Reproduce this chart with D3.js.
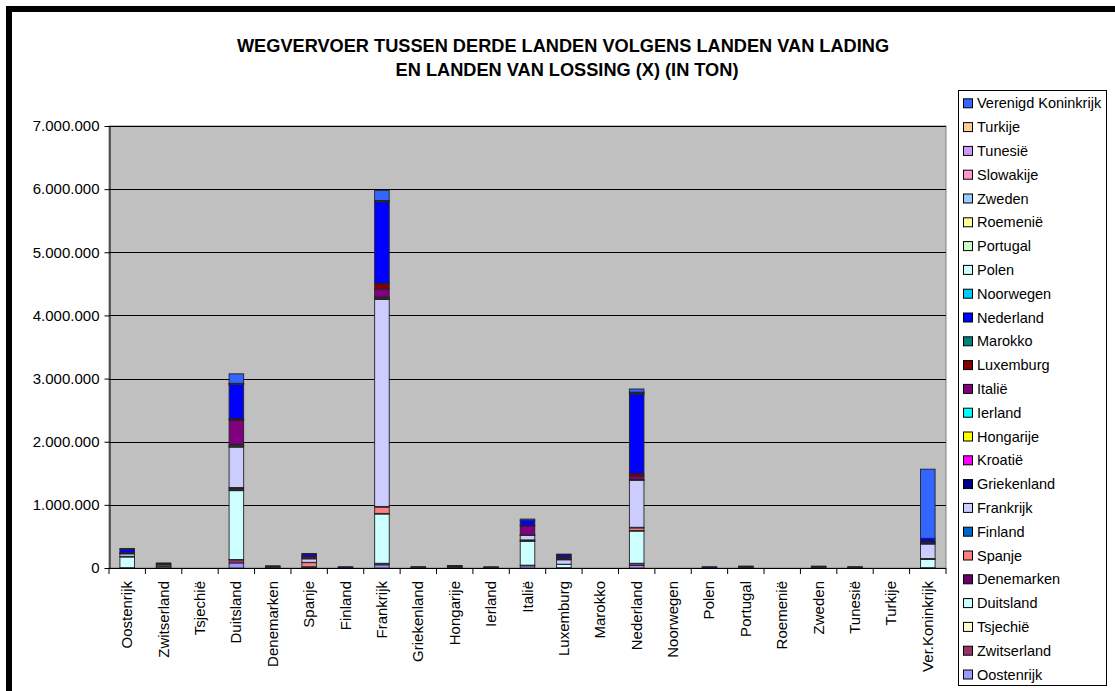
<!DOCTYPE html>
<html>
<head>
<meta charset="utf-8">
<script src="https://cdn.jsdelivr.net/npm/d3@7"></script>
<style>
  body { margin: 0; background: #fff; }
  svg { display: block; font-family: "Liberation Sans", Arial, sans-serif; }
</style>
</head>
<body>
<div class="chart"></div>
<script>
// landen van lading (x-as)
const categories = ["Oostenrijk","Zwitserland","Tsjechië","Duitsland","Denemarken","Spanje","Finland",
  "Frankrijk","Griekenland","Hongarije","Ierland","Italië","Luxemburg","Marokko","Nederland",
  "Noorwegen","Polen","Portugal","Roemenië","Zweden","Tunesië","Turkije","Ver.Koninkrijk"];

// landen van lossing, van onder naar boven gestapeld
const seriesNames = ["Oostenrijk","Zwitserland","Tsjechië","Duitsland","Denemarken","Spanje","Finland",
  "Frankrijk","Griekenland","Kroatië","Hongarije","Ierland","Italië","Luxemburg","Marokko","Nederland",
  "Noorwegen","Polen","Portugal","Roemenië","Zweden","Slowakije","Tunesië","Turkije","Verenigd Koninkrijk"];

const seriesColors = ["#9999FF","#993366","#FFFFCC","#CCFFFF","#660066","#FF8080","#0066CC",
  "#CCCCFF","#000080","#FF00FF","#FFFF00","#00FFFF","#800080","#800000","#008080","#0000FF",
  "#00CCFF","#CCFFFF","#CCFFCC","#FFFF99","#99CCFF","#FF99CC","#CC99FF","#FFCC99","#3366FF"];

// duizend ton, een rij per land van lossing, kolommen volgen categories
const seriesValues = [
  [0,5,0,80,0,5,0,50,0,0,0,35,5,0,40,0,0,0,0,0,0,0,5],          // Oostenrijk
  [5,0,0,50,0,0,0,20,0,0,0,10,0,0,30,0,0,0,0,0,0,0,0],          // Zwitserland
  [0,0,0,5,0,0,0,5,0,0,0,0,0,0,5,0,0,0,0,0,0,0,0],              // Tsjechië
  [170,20,0,1090,15,15,10,780,10,15,0,380,50,0,510,0,10,5,0,10,0,0,130], // Duitsland
  [5,0,0,20,0,0,0,10,0,0,0,5,0,0,10,0,0,0,0,5,0,0,0],           // Denemarken
  [5,5,0,15,0,65,0,100,0,0,0,10,5,0,40,0,0,10,0,0,0,0,15],      // Spanje
  [0,0,0,15,0,5,0,10,0,0,0,5,0,0,10,0,0,0,0,0,0,0,0],           // Finland
  [40,20,0,640,10,55,0,3280,5,5,5,70,70,0,740,0,0,10,0,5,15,0,230], // Frankrijk
  [2,0,0,10,0,5,0,10,0,0,0,5,5,0,5,0,0,0,0,0,0,0,5],            // Griekenland
  [0,0,0,5,0,0,0,5,0,0,0,0,0,0,0,0,0,0,0,0,0,0,0],              // Kroatië
  [3,0,0,15,0,5,0,10,0,0,0,5,0,0,10,0,0,0,0,0,0,0,0],           // Hongarije
  [0,0,0,15,0,0,0,10,0,0,0,0,0,0,5,0,0,0,0,0,0,0,15],           // Ierland
  [10,15,0,380,0,25,0,130,0,5,0,140,20,0,50,0,0,0,0,0,5,0,15],  // Italië
  [0,0,0,20,0,5,0,85,0,0,0,10,20,0,40,0,0,0,0,0,0,0,5],         // Luxemburg
  [0,0,0,5,0,0,0,5,0,0,0,0,0,0,0,0,0,0,0,0,0,0,0],              // Marokko
  [55,15,0,540,10,35,10,1290,5,10,5,80,35,0,1260,0,10,5,0,10,0,0,50], // Nederland
  [0,0,0,5,0,0,0,5,0,0,0,0,0,0,10,0,0,0,0,0,0,0,0],             // Noorwegen
  [0,0,0,5,0,0,0,5,0,0,0,0,0,0,10,0,0,0,0,0,0,0,0],             // Polen
  [0,0,0,5,0,0,0,5,0,0,0,0,0,0,0,0,0,0,0,0,0,0,0],              // Portugal
  [0,0,0,0,0,0,0,0,0,0,0,0,0,0,0,0,0,0,0,0,0,0,0],              // Roemenië
  [0,0,0,5,0,0,0,5,0,0,0,0,0,0,10,0,0,0,0,0,0,0,0],             // Zweden
  [0,0,0,0,0,0,0,0,0,0,0,0,0,0,0,0,0,0,0,0,0,0,0],              // Slowakije
  [0,0,0,0,0,0,0,0,0,0,0,0,0,0,0,0,0,0,0,0,0,0,0],              // Tunesië
  [0,0,0,0,0,0,0,0,0,0,0,0,0,0,0,0,0,0,0,0,0,0,0],              // Turkije
  [15,0,0,150,0,10,0,160,0,5,10,20,10,0,50,0,0,0,0,0,0,0,1095]  // Verenigd Koninkrijk
];

const yTicks = [0,1000000,2000000,3000000,4000000,5000000,6000000,7000000];

const W = 1115, H = 691;
const plot = { left: 109, right: 946, top: 126, bottom: 568 };

const nl = d3.formatLocale({ decimal: ",", thousands: ".", grouping: [3], currency: ["", ""] });
const fmt = nl.format(",d");

const svg = d3.select(".chart").append("svg")
  .attr("width", W)
  .attr("height", H);

svg.append("rect").attr("width", W).attr("height", H).attr("fill", "#fff");

// tabel: een object per categorie
const table = categories.map((c, i) => {
  const row = { cat: c };
  seriesNames.forEach((s, j) => { row[s] = seriesValues[j][i] * 1000; });
  return row;
});
const stacked = d3.stack().keys(seriesNames)(table);

const x = d3.scaleBand().domain(categories)
  .range([plot.left, plot.right]).paddingInner(0.6).paddingOuter(0.3);
const xSlot = d3.scaleBand().domain(categories).range([plot.left, plot.right]);
const y = d3.scaleLinear().domain([0, 7000000]).range([plot.bottom, plot.top]);

// plotgebied
svg.append("rect")
  .attr("x", plot.left).attr("y", plot.top)
  .attr("width", plot.right - plot.left).attr("height", plot.bottom - plot.top)
  .attr("fill", "#C0C0C0").attr("stroke", "#808080").attr("stroke-width", 1);

svg.append("g").selectAll("line")
  .data(yTicks.slice(1))
  .enter().append("line")
  .attr("x1", plot.left).attr("x2", plot.right)
  .attr("y1", d => Math.round(y(d)) + 0.5).attr("y2", d => Math.round(y(d)) + 0.5)
  .attr("stroke", "#000").attr("stroke-width", 1);

// staven
svg.append("g").selectAll("g")
  .data(stacked)
  .enter().append("g")
  .attr("fill", (d, i) => seriesColors[i])
  .selectAll("rect")
  .data(d => d.filter(p => p[1] - p[0] > 0))
  .enter().append("rect")
  .attr("x", d => x(d.data.cat))
  .attr("y", d => y(d[1]))
  .attr("width", x.bandwidth())
  .attr("height", d => y(d[0]) - y(d[1]))
  .attr("stroke", "#222")
  .attr("stroke-width", 0.9);

// y-as
const yAxis = svg.append("g")
  .attr("transform", `translate(${plot.left + 0.5},0)`)
  .call(d3.axisLeft(y).tickValues(yTicks).tickFormat(fmt).tickSize(5).tickSizeOuter(0));
yAxis.select(".domain").attr("stroke", "#000");
yAxis.selectAll("text").attr("font-size", 15).attr("fill", "#000")
  .attr("font-family", "Liberation Sans, Arial, sans-serif").attr("dx", -2);

// x-as
svg.append("line")
  .attr("x1", plot.left).attr("x2", plot.right)
  .attr("y1", plot.bottom + 0.5).attr("y2", plot.bottom + 0.5)
  .attr("stroke", "#000");
svg.append("g").selectAll("line")
  .data(categories.concat([null]))
  .enter().append("line")
  .attr("x1", d => d === null ? plot.right : xSlot(d))
  .attr("x2", d => d === null ? plot.right : xSlot(d))
  .attr("y1", plot.bottom).attr("y2", plot.bottom + 6)
  .attr("stroke", "#000");

svg.append("g").selectAll("text")
  .data(categories)
  .enter().append("text")
  .attr("transform", d => `translate(${xSlot(d) + xSlot.bandwidth() / 2 + 5},${plot.bottom + 13}) rotate(-90)`)
  .attr("text-anchor", "end")
  .attr("font-size", 15)
  .text(d => d);

// titel
const title = svg.append("text")
  .attr("text-anchor", "middle")
  .attr("font-weight", "bold")
  .attr("font-size", 18.2);
title.append("tspan").attr("x", 563).attr("y", 52).text("WEGVERVOER TUSSEN DERDE LANDEN VOLGENS LANDEN VAN LADING");
title.append("tspan").attr("x", 567).attr("y", 76).text("EN LANDEN VAN LOSSING (X) (IN TON)");

// legenda (omgekeerde volgorde)
const legendX = 958, legendY = 90;
svg.append("rect")
  .attr("x", legendX + 0.5).attr("y", legendY + 0.5)
  .attr("width", 148).attr("height", 595)
  .attr("fill", "#fff").attr("stroke", "#000");

const legendItems = seriesNames.map((s, i) => ({ name: s, color: seriesColors[i] })).reverse();
const li = svg.append("g").selectAll("g")
  .data(legendItems)
  .enter().append("g")
  .attr("transform", (d, i) => `translate(${legendX + 5},${103.3 + i * 23.8})`);
li.append("rect")
  .attr("x", 0.5).attr("y", -4.5)
  .attr("width", 9).attr("height", 9)
  .attr("fill", d => d.color).attr("stroke", "#000");
li.append("text")
  .attr("x", 14).attr("y", 5)
  .attr("font-size", 14.5)
  .text(d => d.name);

// kader
svg.append("rect")
  .attr("x", 9).attr("y", 9)
  .attr("width", W + 20).attr("height", H + 20)
  .attr("fill", "none").attr("stroke", "#000").attr("stroke-width", 6);
</script>
</body>
</html>
